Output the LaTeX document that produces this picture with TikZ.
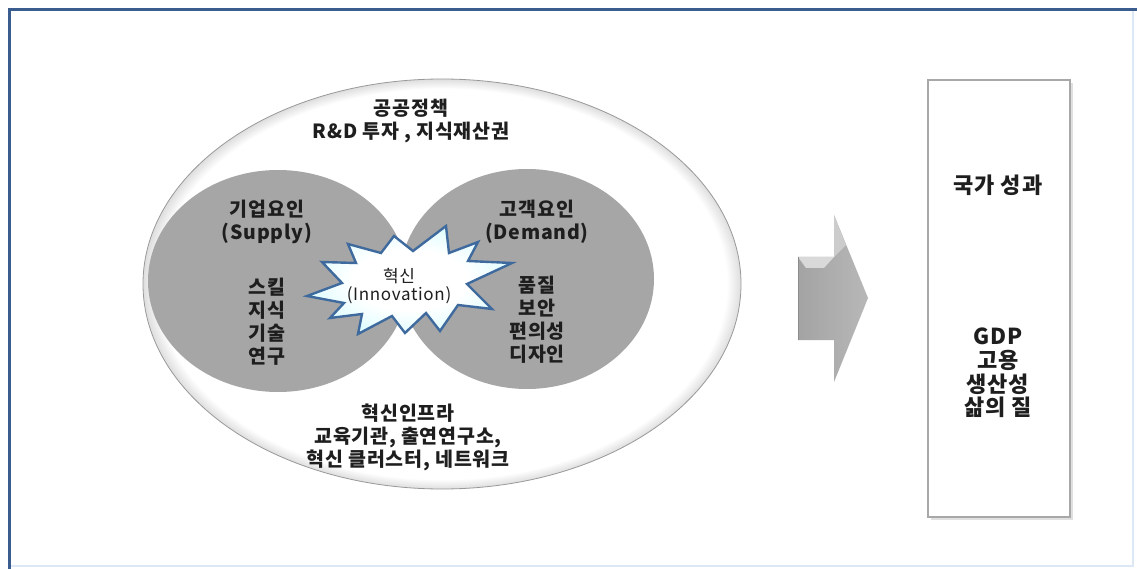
\documentclass[tikz,border=0pt]{standalone}
\usepackage{fontspec}
\setmainfont{Noto Sans CJK KR}[LetterSpace=4]
\definecolor{frameblue}{HTML}{3B5C8F}
\definecolor{framelight}{HTML}{DCE8F5}
\definecolor{circgray}{HTML}{A6A6A6}
\definecolor{starblue}{HTML}{3F6A9E}
\definecolor{txt}{HTML}{1E1E1E}
\definecolor{boxgray}{HTML}{A8A8A8}
\pgfdeclareradialshading{ellglow}{\pgfpoint{0bp}{0bp}}{color(0bp)=(white); color(23.8bp)=(white); color(25bp)=(black!13); color(50bp)=(black!13)}
\pgfdeclareradialshading{starglow}{\pgfpoint{0bp}{0bp}}{color(0bp)=(white); color(14bp)=(white); color(25bp)=(blue!6!cyan!12); color(50bp)=(blue!6!cyan!12)}
\pgfdeclarehorizontalshading{arrowshade}{100bp}{color(0bp)=(black!40); color(50bp)=(black!32); color(100bp)=(black!24)}
\tikzset{
  lbl/.style={text=txt, align=center, inner sep=0pt, font=\fontsize{19.5}{23}\selectfont\bfseries},
  boxlbl/.style={text=txt, align=center, inner sep=0pt, font=\fontsize{22}{23.7}\selectfont\bfseries},
  startxt/.style={text=txt, align=center, inner sep=0pt, font=\fontsize{17}{18}\selectfont},
  circ/.style={fill=circgray, draw=none},
}
\begin{document}
\begin{tikzpicture}[x=1pt,y=-1pt]
\useasboundingbox (0,0) rectangle (1137,569);
\fill[white] (0,0) rectangle (1137,569);
% frame
\draw[framelight, line width=1.2pt] (1133,10) -- (1133,566) -- (10,566);
\draw[frameblue, line width=3pt] (9.5,569) -- (9.5,10) -- (1137,10);
% outer ellipse
\path[shading=ellglow, draw=black!40, line width=0.8pt] (442,284) ellipse [x radius=299, y radius=205];
% two gray ellipses
\fill[circ] (278,281) ellipse [x radius=130, y radius=111];
\fill[circ] (527,279) ellipse [x radius=127, y radius=110];
% star
\path[shading=starglow, draw=starblue, line width=2.4pt, line join=miter, miter limit=20]
 (307,296) -- (342,283) -- (322,262) -- (356,263) -- (348,244) -- (381,253)
 -- (394,236) -- (413,251) -- (446,226) -- (449,253) -- (478,242) -- (468,261)
 -- (512,263) -- (467,284) -- (492,309) -- (458,305) -- (440,331) -- (426,313)
 -- (405,333) -- (392,316) -- (358,334) -- (362,314) -- (330,318) -- (344,303) -- cycle;
% arrow
\path[shading=arrowshade] (798,257) -- (834,257) -- (834,215) -- (868,298) -- (834,382) -- (834,340) -- (798,340) -- cycle;
\fill[black!15] (798,257) -- (834,257) -- (824,268) -- (806,268) -- cycle;
\fill[black!20] (834,215) -- (846,245) -- (834,257) -- cycle;
\draw[black!45, line width=0.6pt] (798,257) -- (798,340);
% result box
\fill[black!12] (931,83) rectangle (1073,520);
\draw[boxgray, fill=white, line width=1.4pt] (928,80) rectangle (1070,517);
% texts
\node[lbl] (policy) at (411,121) {공공정책\\R\&D 투자 , 지식재산권};
\node[lbl] (firm) at (267,222) {기업요인\\(Supply)};
\node[lbl] (firmitems) at (267,322) {스킬\\지식\\기술\\연구};
\node[lbl] (cust) at (537,222) {고객요인\\(Demand)};
\node[lbl] (custitems) at (537,320) {품질\\보안\\편의성\\디자인};
\node[startxt] (innov) at (399,286) {혁신\\(Innovation)};
\node[lbl] (infra) at (408,437) {혁신인프라\\교육기관, 출연연구소,\\혁신 클러스터, 네트워크};
\node[boxlbl] (nat) at (998,185) {국가 성과};
\node[boxlbl] (natitems) at (998,373) {GDP\\고용\\생산성\\삶의 질};
\end{tikzpicture}
\end{document}
